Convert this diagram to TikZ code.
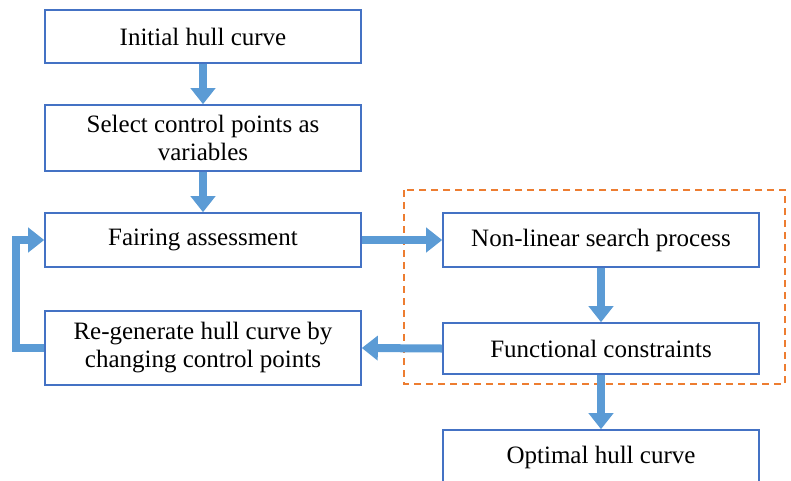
\documentclass[tikz,border=0pt]{standalone}
\usepackage{fontspec}
\setmainfont{Liberation Serif}
\usetikzlibrary{arrows.meta}
\definecolor{boxblue}{RGB}{68,114,196}
\definecolor{arrblue}{RGB}{91,155,213}
\definecolor{dashorange}{RGB}{237,125,49}
\begin{document}
\begin{tikzpicture}[x=1pt,y=-1pt,
  box/.style={draw=boxblue,line width=1.6pt,fill=white,minimum width=316pt,align=center,inner sep=2pt,font=\fontsize{25}{28}\selectfont},
  flow/.style={draw=arrblue,line width=8pt,-{Triangle[width=24pt,length=16pt]}},
  dashbox/.style={draw=dashorange,line width=1.3pt,dash pattern=on 7pt off 5pt}]
\useasboundingbox (0,0) rectangle (791,480);
\clip (0,0) rectangle (791,480);
\draw[dashbox] (404,190) rectangle (785,384);
\node[box,minimum height=53pt] (b1) at (203,36.5) {Initial hull curve};
\node[box,minimum height=66pt] (b2) at (203,138) {Select control points as\\variables};
\node[box,minimum height=54pt] (b3) at (203,240) {Fairing assessment};
\node[box,minimum height=74pt] (b4) at (203,348) {Re-generate hull curve by\\changing control points};
\node[box,minimum height=54pt] (b5) at (601,240) {Non-linear search process};
\node[box,minimum height=51pt] (b6) at (601,348.5) {Functional constraints};
\node[box,minimum height=54pt] (b7) at (601,457) {Optimal hull curve};
\coordinate (lb) at (16,348);
\coordinate (lt) at (16,240);
\draw[flow] (b1.south) -- (b2.north);
\draw[flow] (b2.south) -- (b3.north);
\draw[flow] (b3.east) -- (b5.west);
\draw[flow] (b5.south) -- (b6.north);
\draw[flow] (b6.west) -- (b4.east);
\draw[flow] (b6.south) -- (b7.north);
\draw[flow,line join=miter] (b4.west) -- (lb) -- (lt) -- (b3.west);
\end{tikzpicture}
\end{document}
